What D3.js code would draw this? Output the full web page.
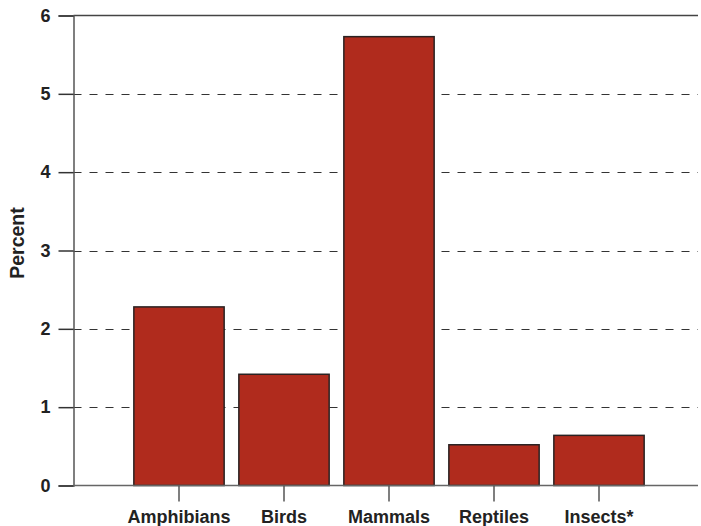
<!DOCTYPE html>
<html><head><meta charset="utf-8">
<script src="https://cdn.jsdelivr.net/npm/d3@7"></script>
<style>body{margin:0;background:#fff}svg{display:block}text{font-family:"Liberation Sans",Arial,sans-serif;font-weight:bold;fill:#222}</style>
</head><body><svg id="c" width="701" height="526"></svg>
<script>
const categories = ["Amphibians","Birds","Mammals","Reptiles","Insects*"];
const values = [2.28, 1.42, 5.73, 0.52, 0.64];
const yTicks = [0,1,2,3,4,5,6];
const gridTicks = [1,2,3,4,5];

const svg = d3.select("#c");
const mLeft = 73.5, mRight = 698, mTop = 15.5, mBottom = 485.5;
const x = d3.scaleBand().domain(categories).range([126.5, 651.5]).paddingInner(0.14).paddingOuter(0.07);
const y = d3.scaleLinear().domain([0,6]).range([mBottom, mTop]);

// grid
svg.append("g").selectAll("line").data(gridTicks).join("line")
  .attr("x1", mLeft).attr("x2", mRight)
  .attr("y1", d=>Math.round(y(d))+0.5).attr("y2", d=>Math.round(y(d))+0.5)
  .attr("stroke","#333").attr("stroke-width",1.2).attr("stroke-dasharray","8,8");

// bars
svg.append("g").selectAll("rect").data(values).join("rect")
  .attr("x", (d,i)=>x(categories[i]))
  .attr("width", x.bandwidth())
  .attr("y", d=>y(d))
  .attr("height", d=>mBottom - y(d))
  .attr("fill","#b02b1d").attr("stroke","#2a2222").attr("stroke-width",1.5);

// top frame line
svg.append("line").attr("x1",mLeft).attr("x2",mRight).attr("y1",mTop).attr("y2",mTop)
  .attr("stroke","#444").attr("stroke-width",1.5);

// y axis
const ya = svg.append("g").attr("transform",`translate(${mLeft},0)`)
  .call(d3.axisLeft(y).tickValues(yTicks).tickFormat(d3.format("d")).tickSize(15).tickPadding(8));
ya.select(".domain").attr("stroke","#555").attr("stroke-width",1.5);
ya.selectAll(".tick line").attr("stroke","#333").attr("stroke-width",1.5);
ya.attr("font-size",18);
ya.selectAll("text").attr("font-size",18).style("fill","#222");

// x axis
const xa = svg.append("g").attr("transform",`translate(0,${mBottom})`)
  .call(d3.axisBottom(x).tickSize(16).tickPadding(8.5).tickSizeOuter(0));
xa.select(".domain").attr("d",`M${mLeft},0H${mRight}`).attr("stroke","#666").attr("stroke-width",1.5);
xa.selectAll(".tick line").attr("stroke","#555").attr("stroke-width",1.5);
xa.attr("font-size",18);
xa.selectAll("text").attr("font-size",18).style("fill","#222");

svg.append("text").attr("transform","translate(24,243) rotate(-90)")
  .attr("text-anchor","middle").attr("font-size",19.5).text("Percent");
</script></body></html>
